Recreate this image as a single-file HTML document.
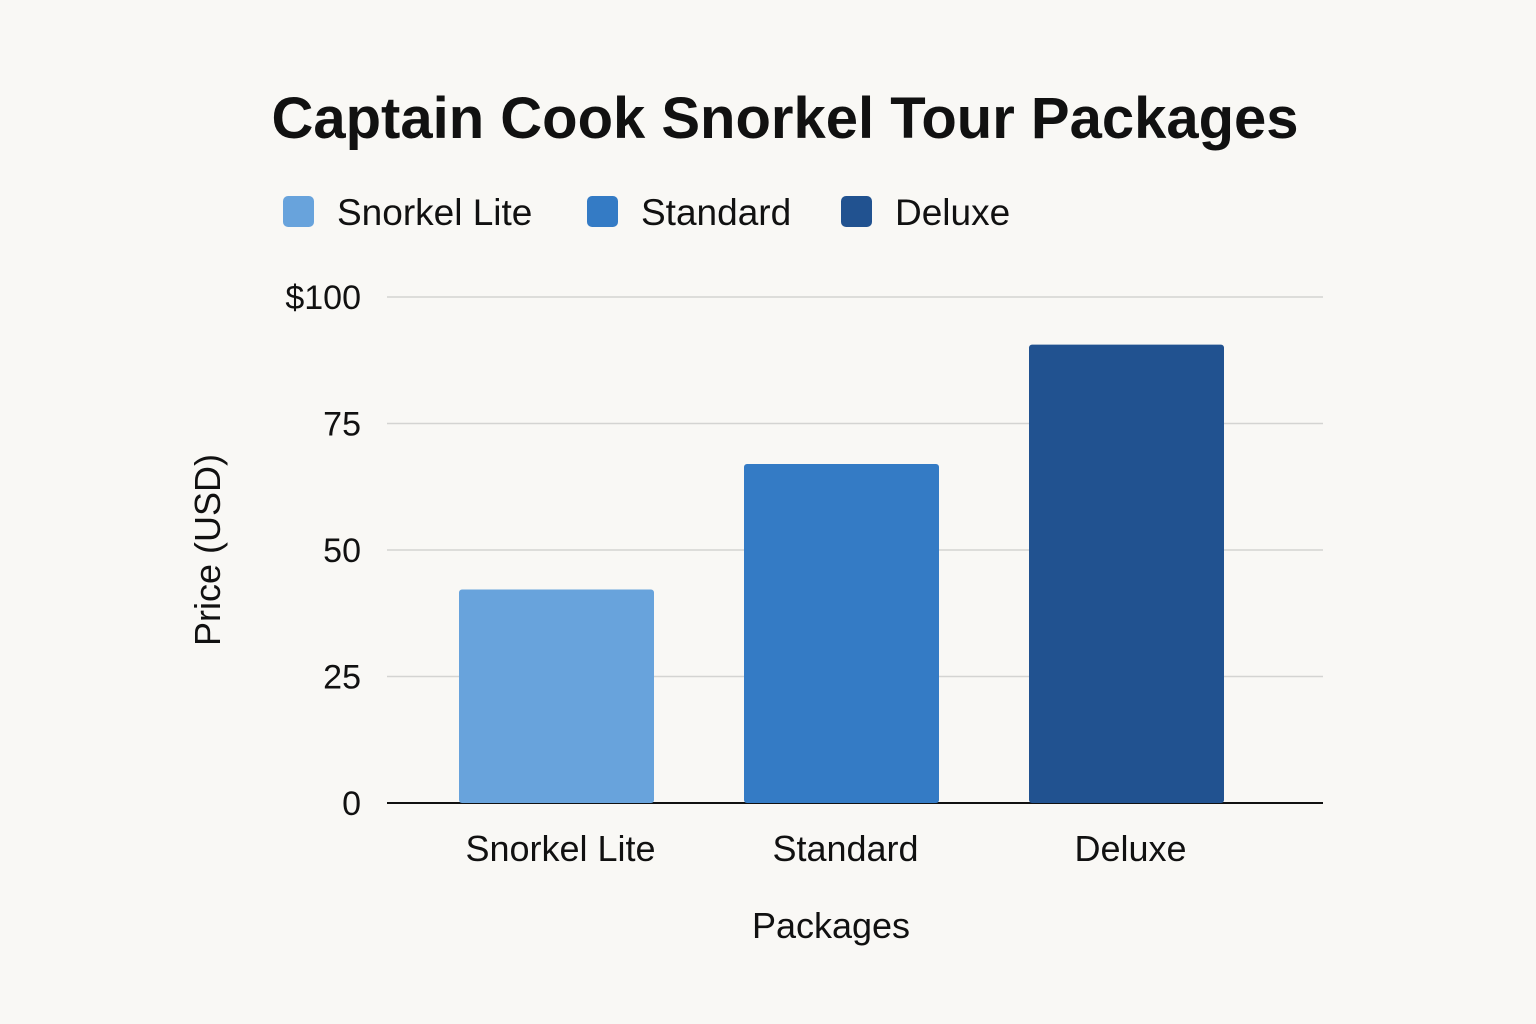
<!DOCTYPE html>
<html><head><meta charset="utf-8"><style>
html,body{margin:0;padding:0;background:#f9f8f5;}
svg{display:block;font-family:"Liberation Sans",sans-serif;}
</style></head><body>
<svg id="chart" width="1536" height="1024" viewBox="0 0 1536 1024">
<rect width="1536" height="1024" fill="#f9f8f5"/>
<text x="785" y="138" text-anchor="middle" font-size="58" font-weight="bold" fill="#111">Captain Cook Snorkel Tour Packages</text>
<g id="legend"></g>
<g id="grid"></g>
<g id="bars"></g>
<g id="xlabels"></g>
<text x="925" y="0" transform="translate(0,0)" visibility="hidden"></text>
<text x="831" y="938" text-anchor="middle" font-size="36" fill="#111">Packages</text>
<text transform="translate(220,550) rotate(-90)" text-anchor="middle" font-size="36" fill="#111">Price (USD)</text>
</svg>
<script>
const categories = ["Snorkel Lite", "Standard", "Deluxe"];
const prices = [42.2, 67, 90.6];
const colors = ["#68a3dc", "#347bc5", "#215290"];
const tickValues = [0, 25, 50, 75, 100];
const tickLabels = ["0", "25", "50", "75", "$100"];

const NS = "http://www.w3.org/2000/svg";
const y0 = 803, yTop = 297, yMax = 100;
const xLeft = 387, xRight = 1323;
function yScale(v){ return y0 - (v / yMax) * (y0 - yTop); }
function xCenter(i){ return 556.5 + i * 285; }
const barW = 195;
function mk(tag, attrs, parent){
  const e = document.createElementNS(NS, tag);
  for (const k in attrs) e.setAttribute(k, attrs[k]);
  parent.appendChild(e);
  return e;
}
const grid = document.getElementById("grid");
tickValues.forEach((v, i) => {
  const y = yScale(v);
  const l = mk("line", {x1: xLeft, x2: xRight, y1: y, y2: y, stroke: v === 0 ? "#111" : "#d4d4d2", "stroke-width": v === 0 ? 2 : 1.5}, grid);
  
  
  const t = mk("text", {x: 361, y: y + 12, "text-anchor": "end", "font-size": 34, fill: "#111"}, grid);
  t.textContent = tickLabels[i];
  
  
});
const bars = document.getElementById("bars");
const xl = document.getElementById("xlabels");
categories.forEach((c, i) => {
  const y = yScale(prices[i]);
  const r = mk("rect", {x: xCenter(i) - barW/2, y: y, width: barW, height: y0 - y, rx: 3, fill: colors[i]}, bars);
  
  
  const t = mk("text", {x: xCenter(i) + 4, y: 861, "text-anchor": "middle", "font-size": 36, fill: "#111"}, xl);
  t.textContent = c;
  
  
});
const legend = document.getElementById("legend");
const legX = [283, 587, 841];
categories.forEach((c, i) => {
  const g = mk("g", {}, legend);
  
  
  mk("rect", {x: legX[i], y: 196, width: 31, height: 31, rx: 5, fill: colors[i]}, g);
  const t = mk("text", {x: legX[i] + 54, y: 225, "font-size": 37, fill: "#111"}, g);
  t.textContent = c;
});
</script>
</body></html>
